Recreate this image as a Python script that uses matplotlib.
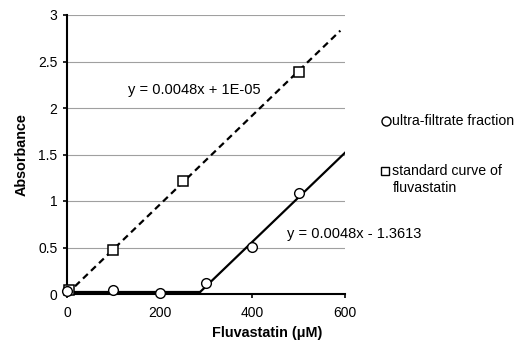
import matplotlib
matplotlib.use("Agg")
import matplotlib.pyplot as plt
import numpy as np
from matplotlib.lines import Line2D

plt.rcParams['font.family'] = ['Liberation Sans', 'DejaVu Sans']

# Data
std_x = [5, 100, 250, 500]
std_y = [0.04, 0.47, 1.22, 2.39]
uf_x = [0, 100, 200, 300, 400, 500]
uf_y = [0.03, 0.04, 0.01, 0.12, 0.51, 1.09]

std_slope, std_icpt = 0.0048, 0.00001
uf_slope, uf_icpt = 0.0048, -1.3613
flat_level = 0.025
std_fit_x = [0, 590]
flat_x = [0, 288]
uf_fit_x = [288, 600]

xticks = [0, 200, 400, 600]
yticks = [0, 0.5, 1, 1.5, 2, 2.5, 3]
ytick_labels = ['0', '0.5', '1', '1.5', '2', '2.5', '3']

W, H = 523, 341
fig = plt.figure(figsize=(W / 100, H / 100), dpi=100)
ax = fig.add_axes([67 / W, (H - 294) / H, 278 / W, 279 / H])

for yv in yticks[1:]:
    ax.axhline(yv, color='#a0a0a0', lw=0.8, zorder=0)

ax.plot(std_fit_x, [std_slope * x + std_icpt for x in std_fit_x], color='black', lw=1.6, ls=(0, (3, 2)), zorder=2)
ax.plot(flat_x, [flat_level] * 2, color='black', lw=1.6, zorder=2)
ax.plot(uf_fit_x, [max(flat_level, uf_slope * x + uf_icpt) for x in uf_fit_x], color='black', lw=1.6, zorder=2)

ax.plot(std_x, std_y, ls='none', marker='s', ms=6.5, mfc='white', mec='black', mew=1.1, zorder=3, clip_on=False)
ax.plot(uf_x, uf_y, ls='none', marker='o', ms=7, mfc='white', mec='black', mew=1.0, zorder=3, clip_on=False)

ax.set_xlim(0, 600)
ax.set_ylim(0, 3)
ax.set_xticks(xticks)
ax.set_xticklabels([str(v) for v in xticks], fontsize=10)
ax.set_yticks(yticks)
ax.set_yticklabels(ytick_labels, fontsize=10)
for s in ['top', 'right']:
    ax.spines[s].set_visible(False)
for s in ['left', 'bottom']:
    ax.spines[s].set_linewidth(1.5)
ax.tick_params(axis='both', direction='out', length=3, width=1.2, pad=4)
ax.tick_params(axis='x', pad=5.5)

ax.set_xlabel('Fluvastatin (μM)', fontsize=10.4, fontweight='bold')
ax.xaxis.set_label_coords((267 - 67) / 278, -(333 - 294) / 279)
ax.xaxis.label.set_va('center')
ax.set_ylabel('Absorbance', fontsize=10.4, fontweight='bold')
ax.yaxis.set_label_coords(-(67 - 22) / 278, 0.5)
ax.yaxis.label.set_va('center')

ax.text(274, 2.19, 'y = 0.0048x + 1E-05', fontsize=10.5, ha='center', va='center')
ax.text(619, 0.65, 'y = 0.0048x - 1.3613', fontsize=10.5, ha='center', va='center', clip_on=False)

# Legend (manual placement)
fig.add_artist(Line2D([386 / W], [(H - 121) / H], ls='none', marker='o', ms=6.5,
                      mfc='white', mec='black', mew=1.0, transform=fig.transFigure))
fig.text(392 / W, (H - 121) / H, 'ultra-filtrate fraction', fontsize=10.2, ha='left', va='center')
fig.add_artist(Line2D([385 / W], [(H - 171) / H], ls='none', marker='s', ms=6,
                      mfc='white', mec='black', mew=1.0, transform=fig.transFigure))
fig.text(392 / W, (H - 171) / H, 'standard curve of', fontsize=10.2, ha='left', va='center')
fig.text(393 / W, (H - 188) / H, 'fluvastatin', fontsize=10.2, ha='left', va='center')

fig.savefig('out.png', dpi=100)
